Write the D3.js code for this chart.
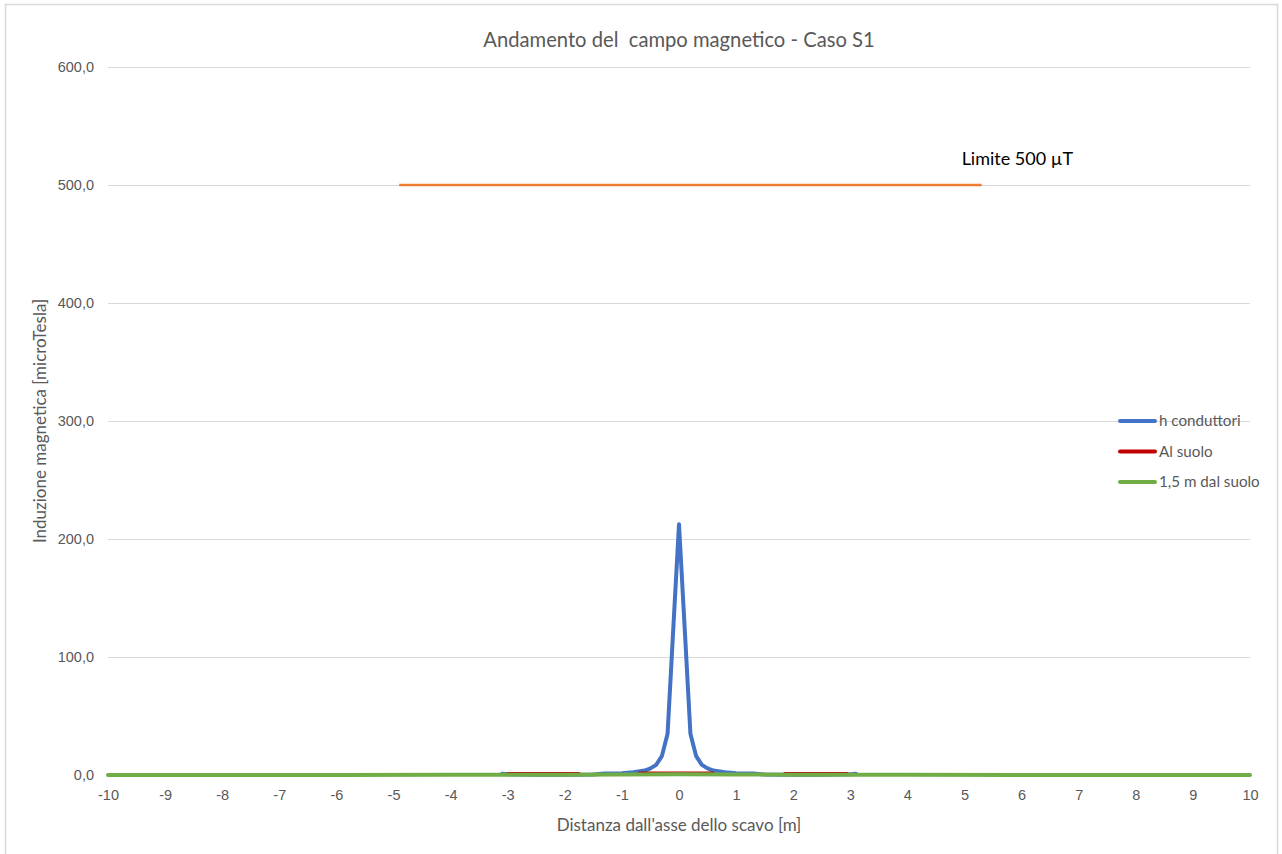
<!DOCTYPE html>
<html>
<head>
<meta charset="utf-8">
<script src="https://cdn.jsdelivr.net/npm/d3@7"></script>
<style>
  html, body { margin: 0; padding: 0; background: #fff; }
  svg { display: block; font-family: Lato, "Open Sans", sans-serif; }
</style>
</head>
<body>
<svg id="chart" width="1282" height="854"></svg>
<script>
// Distance from the trench axis [m] and magnetic induction [µT]
const conductorX   = [-3.1, -3.0, -2.5, -2.0, -1.5, -1.3, -1.0, -0.8, -0.6, -0.5, -0.4, -0.3, -0.2, -0.1, 0.0,
                      0.1, 0.2, 0.3, 0.4, 0.5, 0.6, 0.8, 1.0, 1.3, 1.5, 2.0, 2.5, 3.0, 3.1];
const conductorVal = [1.0, 0.6, 0.3, 0.3, 0.4, 1.2, 1.5, 2.4, 3.8, 5.6, 8.6, 16.0, 35.0, 124.0, 212.5,
                      124.0, 35.0, 16.0, 8.6, 5.6, 3.8, 2.4, 1.5, 1.2, 0.4, 0.3, 0.3, 0.6, 1.0];

const groundX   = [-3.0, -2.5, -2.0, -1.75, -1.7, -0.7, -0.4, 0.0, 0.3, 0.6, 1.8, 1.85, 2.5, 2.95];
const groundVal = [1.3, 1.3, 1.3, 1.3, null, 1.6, 1.7, 1.7, 1.7, 1.6, null, 1.3, 1.3, 1.3];

const heightX   = [-10, -6, -4, -3, -2, -1, 0, 1, 2, 3, 4, 6, 10];
const heightVal = [0.05, 0.1, 0.15, 0.2, 0.3, 0.5, 0.6, 0.5, 0.3, 0.2, 0.15, 0.1, 0.05];

const limitX   = [-4.9, 5.3];
const limitVal = [500, 500];

const xTicks = d3.range(-10, 11, 1);
const yTicks = [0, 100, 200, 300, 400, 500, 600];

const seriesNames  = ["h conduttori", "Al suolo", "1,5 m dal suolo"];
const seriesColors = ["#4472C4", "#C00000", "#70AD47"];

const svg = d3.select("#chart");
const plot = { left: 108, right: 1250, top: 67, bottom: 775 };

// chart frame
svg.append("rect")
  .attr("x", 5.5).attr("y", 4.5)
  .attr("width", 1272).attr("height", 870)
  .attr("fill", "#fff").attr("stroke", "#d9d9d9").attr("stroke-width", 1.5);

const x = d3.scaleLinear().domain([-10, 10]).range([plot.left, plot.right]);
const y = d3.scaleLinear().domain([0, 600]).range([plot.bottom, plot.top]);

// horizontal gridlines and value labels
const yAxis = d3.axisLeft(y).tickValues(yTicks)
  .tickSize(-(plot.right - plot.left))
  .tickPadding(14)
  .tickFormat(d => d3.format(".1f")(d).replace(".", ","));
const gy = svg.append("g").attr("transform", `translate(${plot.left},0)`).call(yAxis);
gy.select(".domain").remove();
gy.selectAll(".tick line").attr("stroke", "#d9d9d9").attr("stroke-width", 1);
gy.selectAll(".tick text").attr("fill", "#595959").attr("font-size", 14.5);

// distance labels
const xAxis = d3.axisBottom(x).tickValues(xTicks).tickSize(0).tickPadding(15)
  .tickFormat(d => String(d));
const gx = svg.append("g").attr("transform", `translate(0,${plot.bottom})`).call(xAxis);
gx.select(".domain").remove();
gx.selectAll(".tick text").attr("fill", "#595959").attr("font-size", 14.5);

const line = (xs, vs) => d3.line()
  .defined((d, i) => vs[i] !== null)
  .x((d, i) => x(xs[i]))
  .y((d, i) => y(vs[i]))(xs);

// 500 µT limit
svg.append("path").attr("d", line(limitX, limitVal))
  .attr("fill", "none").attr("stroke", "#ED7D31").attr("stroke-width", 2.5);
svg.append("text").attr("x", x(limitX[1]) - 20).attr("y", y(limitVal[0]) - 20)
  .attr("font-size", 18).attr("fill", "#000").text("Limite 500 µT");

// field profiles
const series = [
  { xs: conductorX, vs: conductorVal, w: 4 },
  { xs: groundX,    vs: groundVal,    w: 3 },
  { xs: heightX,    vs: heightVal,    w: 4 }
];
series.forEach((s, i) => {
  svg.append("path").attr("d", line(s.xs, s.vs))
    .attr("fill", "none").attr("stroke", seriesColors[i])
    .attr("stroke-width", s.w).attr("stroke-linejoin", "round").attr("stroke-linecap", "round");
});

// legend
const leg = svg.append("g").attr("transform", "translate(1118,421)");
seriesNames.forEach((n, i) => {
  const g = leg.append("g").attr("transform", `translate(0,${i * 30.5})`);
  g.append("line").attr("x1", 2).attr("x2", 37).attr("y1", 0).attr("y2", 0)
    .attr("stroke", seriesColors[i]).attr("stroke-width", 4).attr("stroke-linecap", "round");
  g.append("text").attr("x", 41).attr("y", 5).attr("font-size", 15.2)
    .attr("fill", "#595959").text(n);
});

// titles
svg.append("text").attr("x", 679).attr("y", 47).attr("text-anchor", "middle")
  .attr("font-size", 20.2).attr("fill", "#595959").style("white-space", "pre")
  .text("Andamento del  campo magnetico - Caso S1");
svg.append("text").attr("x", 679).attr("y", 831).attr("text-anchor", "middle")
  .attr("font-size", 17).attr("fill", "#595959")
  .text("Distanza dall'asse dello scavo [m]");
svg.append("text").attr("transform", "translate(46,421) rotate(-90)").attr("text-anchor", "middle")
  .attr("font-size", 17).attr("fill", "#595959")
  .text("Induzione magnetica [microTesla]");
</script>
</body>
</html>
